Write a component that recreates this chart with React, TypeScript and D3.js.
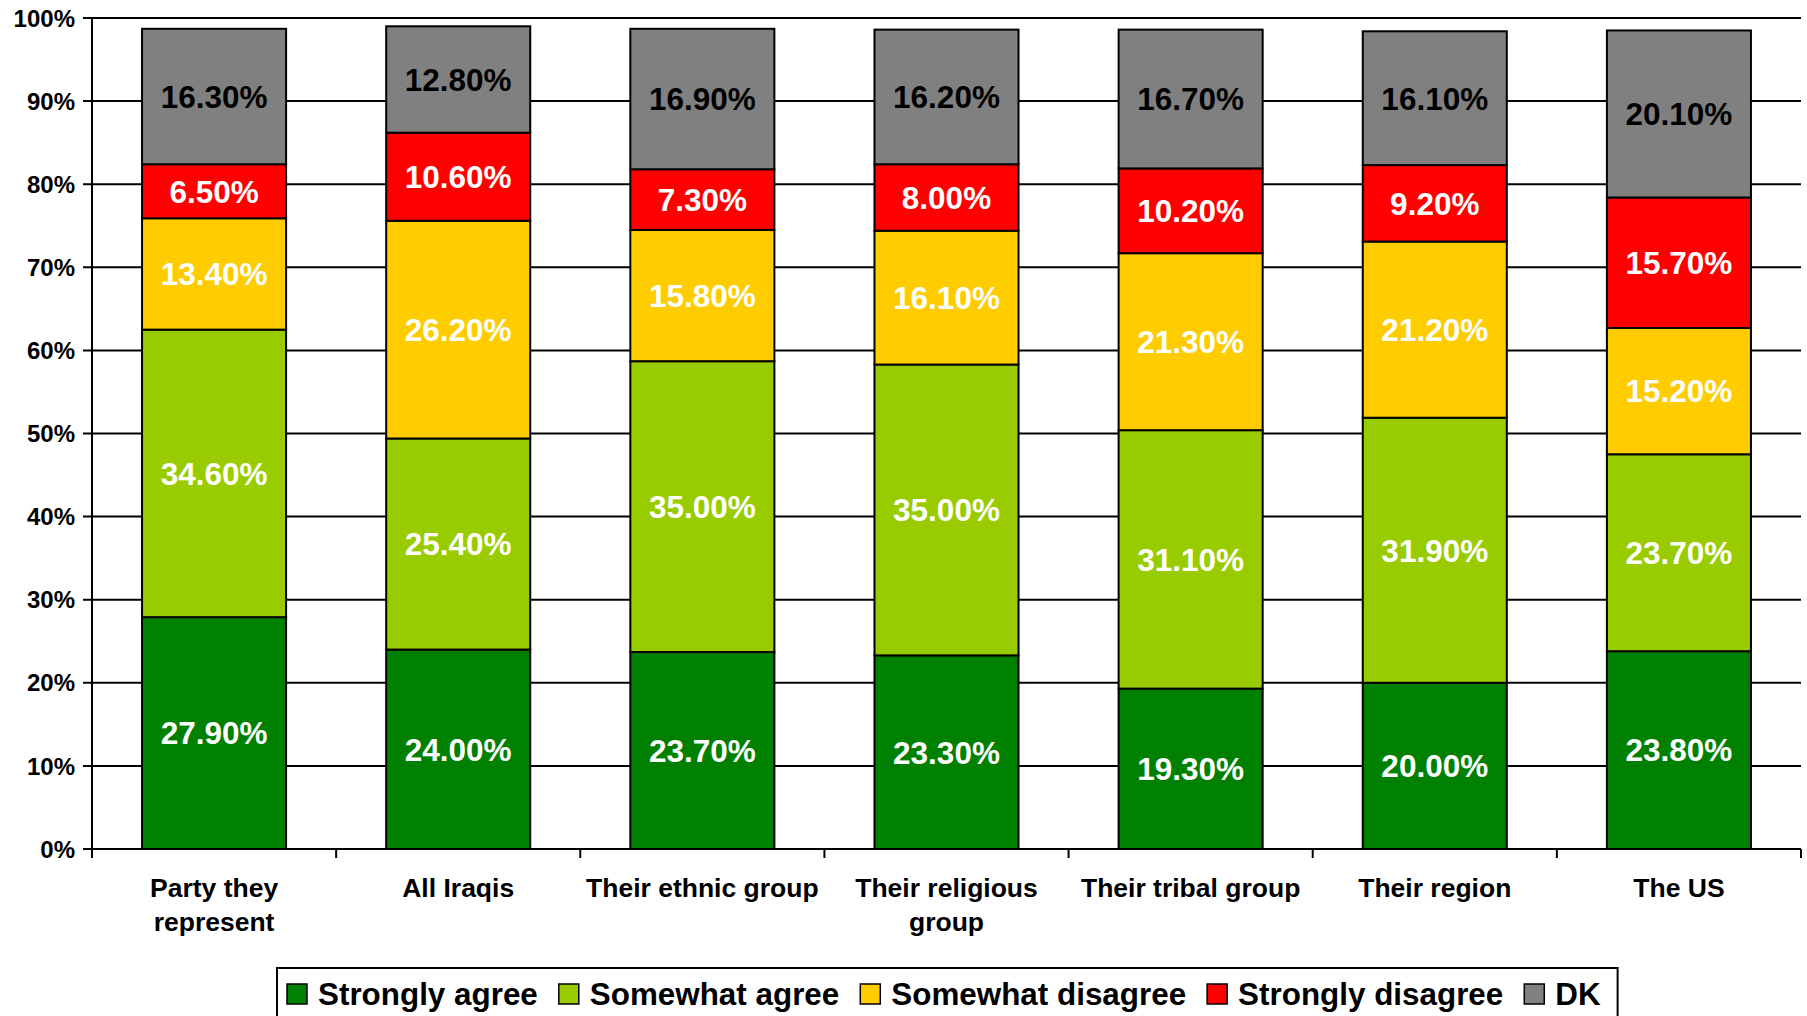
import { useEffect, useRef } from 'react';
import * as d3 from 'd3';

const categories = [
  ['Party they', 'represent'],
  ['All Iraqis'],
  ['Their ethnic group'],
  ['Their religious', 'group'],
  ['Their tribal group'],
  ['Their region'],
  ['The US'],
];
const seriesNames = ['Strongly agree', 'Somewhat agree', 'Somewhat disagree', 'Strongly disagree', 'DK'];
const seriesColors = ['#008000', '#99CC00', '#FFCC00', '#FF0000', '#808080'];
const labelColors = ['#ffffff', '#ffffff', '#ffffff', '#ffffff', '#000000'];

const stronglyAgree = [27.9, 24.0, 23.7, 23.3, 19.3, 20.0, 23.8];
const somewhatAgree = [34.6, 25.4, 35.0, 35.0, 31.1, 31.9, 23.7];
const somewhatDisagree = [13.4, 26.2, 15.8, 16.1, 21.3, 21.2, 15.2];
const stronglyDisagree = [6.5, 10.6, 7.3, 8.0, 10.2, 9.2, 15.7];
const dontKnow = [16.3, 12.8, 16.9, 16.2, 16.7, 16.1, 20.1];

const yTicks = [0, 10, 20, 30, 40, 50, 60, 70, 80, 90, 100];

const W = 1807;
const H = 1016;
const FONT = '"Liberation Sans", Arial, sans-serif';

const App = () => {
  const svgRef = useRef<SVGSVGElement>(null!);

  useEffect(() => {
    document.body.style.margin = '0';
    const svg = d3.select(svgRef.current);
    svg.selectAll('*').remove();

    const left = 92;
    const right = 1801;
    const top = 18;
    const bottom = 849;

    const series = [stronglyAgree, somewhatAgree, somewhatDisagree, stronglyDisagree, dontKnow];
    const rows = categories.map((c, i) => {
      const r: Record<string, number> = {};
      seriesNames.forEach((s, k) => (r[s] = series[k][i]));
      return r;
    });
    const stacked = d3.stack<Record<string, number>>().keys(seriesNames)(rows);

    const x = d3
      .scaleBand<number>()
      .domain(d3.range(categories.length))
      .range([left, right])
      .paddingInner(0)
      .paddingOuter(0);
    const barW = x.bandwidth() * 0.59;
    const y = d3.scaleLinear().domain([0, 100]).range([bottom, top]);

    // gridlines
    svg
      .append('g')
      .selectAll('line')
      .data(yTicks)
      .enter()
      .append('line')
      .attr('x1', left - 9)
      .attr('x2', right)
      .attr('y1', d => y(d))
      .attr('y2', d => y(d))
      .attr('stroke', '#000')
      .attr('stroke-width', 2);

    // y labels
    svg
      .append('g')
      .selectAll('text')
      .data(yTicks)
      .enter()
      .append('text')
      .attr('x', left - 17)
      .attr('y', d => y(d))
      .attr('dy', '0.36em')
      .attr('text-anchor', 'end')
      .attr('font-family', FONT)
      .attr('font-weight', 'bold')
      .attr('font-size', 24)
      .text(d => `${d}%`);

    // bars
    const layers = svg
      .append('g')
      .selectAll('g')
      .data(stacked)
      .enter()
      .append('g')
      .attr('fill', (_, i) => seriesColors[i]);

    layers
      .selectAll('rect')
      .data(d => d)
      .enter()
      .append('rect')
      .attr('x', (_, i) => x(i)! + (x.bandwidth() - barW) / 2)
      .attr('width', barW)
      .attr('y', d => y(d[1]))
      .attr('height', d => y(d[0]) - y(d[1]))
      .attr('stroke', '#000')
      .attr('stroke-width', 2);

    // value labels
    stacked.forEach((layer, k) => {
      svg
        .append('g')
        .selectAll('text')
        .data(layer)
        .enter()
        .append('text')
        .attr('x', (_, i) => x(i)! + x.bandwidth() / 2)
        .attr('y', d => y((d[0] + d[1]) / 2))
        .attr('dy', '0.36em')
        .attr('text-anchor', 'middle')
        .attr('font-family', FONT)
        .attr('font-weight', 'bold')
        .attr('font-size', 31.5)
        .attr('fill', labelColors[k])
        .text(d => `${(d[1] - d[0]).toFixed(2)}%`);
    });

    // axes lines
    svg
      .append('line')
      .attr('x1', left)
      .attr('x2', left)
      .attr('y1', top)
      .attr('y2', bottom + 9)
      .attr('stroke', '#000')
      .attr('stroke-width', 2);
    svg
      .append('line')
      .attr('x1', left)
      .attr('x2', right)
      .attr('y1', bottom)
      .attr('y2', bottom)
      .attr('stroke', '#000')
      .attr('stroke-width', 2);
    svg
      .append('g')
      .selectAll('line')
      .data(d3.range(categories.length + 1))
      .enter()
      .append('line')
      .attr('x1', i => left + i * x.step())
      .attr('x2', i => left + i * x.step())
      .attr('y1', bottom)
      .attr('y2', bottom + 9)
      .attr('stroke', '#000')
      .attr('stroke-width', 2);

    // category labels
    const cat = svg
      .append('g')
      .selectAll('text')
      .data(categories)
      .enter()
      .append('text')
      .attr('x', (_, i) => x(i)! + x.bandwidth() / 2)
      .attr('y', 887)
      .attr('text-anchor', 'middle')
      .attr('font-family', FONT)
      .attr('font-weight', 'bold')
      .attr('font-size', 26.5);
    cat
      .selectAll('tspan')
      .data(d => d)
      .enter()
      .append('tspan')
      .attr('x', function () {
        return (this.parentNode as SVGTextElement).getAttribute('x');
      })
      .attr('dy', (_, j) => (j === 0 ? '0.36em' : 34))
      .text(d => d);

    // legend
    const legend = svg.append('g');
    const box = legend
      .append('rect')
      .attr('x', 277)
      .attr('y', 968)
      .attr('height', 80)
      .attr('fill', '#fff')
      .attr('stroke', '#000')
      .attr('stroke-width', 2);
    let cx = 287;
    seriesNames.forEach((s, k) => {
      legend
        .append('rect')
        .attr('x', cx)
        .attr('y', 984)
        .attr('width', 20)
        .attr('height', 20)
        .attr('fill', seriesColors[k])
        .attr('stroke', '#000')
        .attr('stroke-width', 1.5);
      const t = legend
        .append('text')
        .attr('x', cx + 31)
        .attr('y', 994)
        .attr('dy', '0.36em')
        .attr('font-family', FONT)
        .attr('font-weight', 'bold')
        .attr('font-size', 31.4)
        .text(s);
      const w = (t.node() as SVGTextElement).getComputedTextLength();
      cx += 31 + w + 21;
    });
    box.attr('width', cx - 277 - 4);
  }, []);

  return <svg ref={svgRef} width={W} height={H} style={{ display: 'block', background: '#fff' }} />;
};

export default App;
